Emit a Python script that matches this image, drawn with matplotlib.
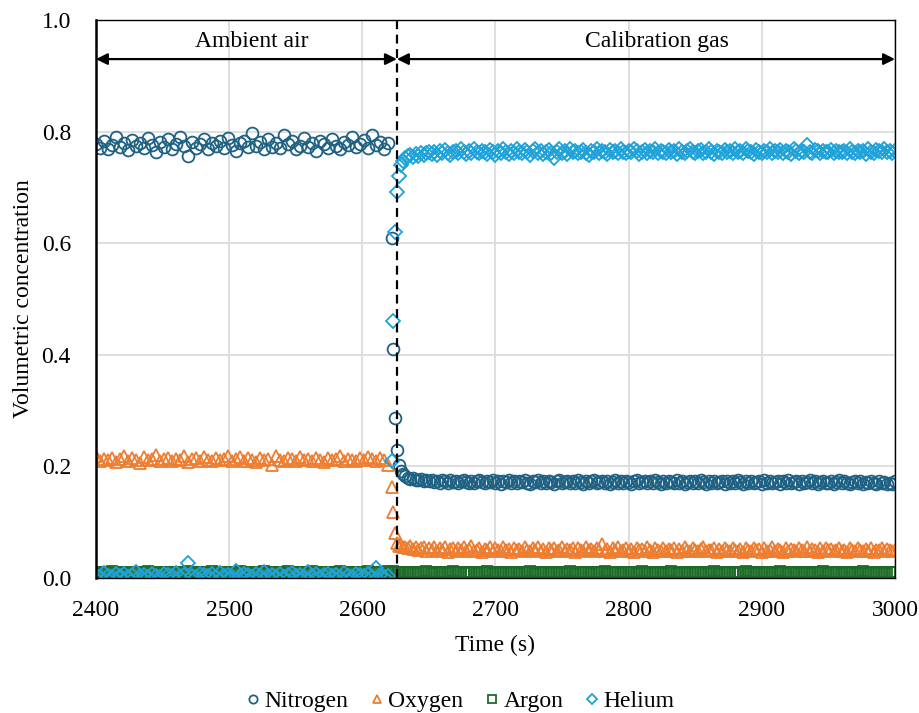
import numpy as np
import matplotlib
matplotlib.use("Agg")
import matplotlib.pyplot as plt

plt.rcParams['font.family'] = ['Liberation Serif', 'DejaVu Serif']

# Values in thousandths (volume fraction x 1000)
# Ambient air segment, one sample every 3 s from 2400 s
n2_air = [778, 771, 783, 769, 776, 790, 772, 780, 767, 785,
          774, 779, 770, 788, 776, 764, 781, 773, 786, 769,
          777, 791, 775, 757, 782, 771, 778, 787, 768, 780,
          774, 783, 770, 789, 776, 765, 779, 784, 772, 797,
          775, 781, 768, 786, 773, 779, 770, 794, 777, 783,
          769, 775, 788, 772, 780, 766, 784, 777, 771, 786,
          774, 769, 781, 776, 790, 773, 778, 785, 770, 794,
          776, 782, 768, 779]
o2_air = [218, 209, 214, 211, 216, 208, 213, 219, 210, 215,
          212, 207, 217, 211, 214, 220, 209, 213, 216, 210,
          214, 211, 218, 208, 213, 215, 210, 217, 212, 209,
          216, 211, 214, 219, 210, 213, 217, 209, 215, 212,
          208, 216, 211, 214, 202, 218, 212, 210, 215, 213,
          209, 217, 211, 214, 210, 216, 212, 208, 215, 211,
          213, 218, 210, 214, 212, 209, 216, 211, 217, 213,
          210, 215, 212, 203]
ar_air = [10, 9, 11, 10, 12, 9, 10, 11, 8, 10,
          11, 10, 9, 12, 10, 11, 9, 10, 11, 10,
          9, 11, 10, 12, 10, 9, 11, 10, 10, 12,
          9, 10, 11, 10, 9, 11, 12, 10, 10, 9,
          11, 10, 12, 9, 10, 11, 10, 9, 12, 10,
          10, 11, 9, 10, 12, 10, 11, 9, 10, 11,
          10, 12, 9, 11, 10, 10, 11, 9, 12, 10,
          11, 10, 9, 12]
he_air = [6, 2, 9, 4, 1, 7, 3, 8, 2, 5,
          10, 3, 6, 1, 8, 4, 2, 7, 5, 3,
          9, 1, 6, 27, 4, 2, 8, 5, 3, 7,
          1, 9, 4, 6, 2, 12, 3, 8, 5, 1,
          7, 3, 10, 4, 6, 2, 8, 1, 5, 9,
          3, 6, 2, 11, 4, 7, 1, 5, 8, 3,
          6, 2, 9, 4, 1, 7, 5, 3, 8, 2,
          18, 5, 1, 4]

# Switch-over
t_switch = [2622, 2623, 2624.5, 2626, 2627.5, 2629, 2630.5]
n2_switch = [610, 410, 287, 230, 203, 192, 186]
o2_switch = [164, 119, 80, 63, 58, 60, 56]
ar_switch = [11, 12, 10, 11, 10, 11, 10]
he_switch = [210, 460, 620, 692, 720, 740, 748]

# Calibration gas segment, one sample every 2 s from 2632 s
n2_cal = [183, 180, 178, 179, 176, 175, 177, 174, 176, 173,
          175, 172, 174, 171, 176, 173, 170, 175, 172, 174,
          171, 173, 176, 172, 170, 174, 171, 173, 175, 172,
          170, 174, 172, 176, 171, 173, 169, 174, 172, 175,
          171, 173, 170, 174, 172, 176, 171, 169, 173, 172,
          175, 170, 173, 171, 174, 172, 169, 173, 176, 171,
          172, 174, 170, 173, 171, 175, 172, 169, 174, 171,
          173, 176, 170, 172, 174, 171, 173, 169, 172, 175,
          171, 173, 170, 174, 172, 169, 173, 175, 171, 172,
          174, 170, 173, 171, 176, 172, 169, 173, 171, 174,
          172, 170, 175, 171, 173, 169, 172, 174, 170, 173,
          171, 175, 172, 169, 173, 171, 174, 170, 172, 173,
          169, 174, 171, 173, 170, 175, 172, 169, 173, 171,
          174, 170, 172, 173, 169, 175, 171, 173, 170, 172,
          174, 169, 173, 171, 175, 170, 172, 174, 169, 173,
          171, 172, 175, 170, 173, 169, 172, 174, 171, 170,
          173, 169, 172, 175, 170, 173, 171, 168, 172, 174,
          170, 173, 169, 172, 171, 174, 170, 168, 173, 171,
          172, 169, 170, 168, 174]
o2_cal = [56, 54, 57, 52, 55, 50, 53, 56, 49, 54,
          51, 55, 48, 53, 50, 56, 47, 52, 54, 49,
          53, 50, 55, 48, 52, 57, 49, 51, 54, 47,
          52, 50, 55, 48, 53, 51, 49, 56, 50, 52,
          47, 54, 50, 52, 49, 55, 51, 48, 53, 50,
          56, 49, 52, 47, 54, 50, 53, 48, 51, 55,
          49, 52, 50, 54, 47, 53, 51, 49, 56, 50,
          52, 48, 54, 50, 61, 49, 52, 47, 53, 50,
          55, 48, 51, 53, 49, 52, 47, 54, 50, 52,
          49, 55, 50, 47, 53, 51, 49, 54, 48, 52,
          50, 54, 47, 52, 49, 55, 50, 48, 53, 51,
          49, 52, 56, 48, 51, 50, 54, 47, 52, 49,
          53, 50, 48, 54, 51, 49, 52, 46, 53, 50,
          48, 54, 50, 52, 47, 53, 49, 51, 55, 48,
          52, 50, 47, 54, 49, 52, 50, 48, 53, 51,
          49, 55, 48, 52, 50, 47, 53, 49, 54, 50,
          52, 48, 51, 54, 49, 50, 47, 53, 51, 49,
          54, 50, 48, 52, 49, 53, 47, 51, 50, 54,
          49, 52, 50, 48, 51]
ar_cal = [11, 10, 11, 10, 9, 11, 10, 10, 12, 10,
          9, 10, 11, 10, 10, 9, 11, 10, 12, 10,
          10, 11, 9, 10, 10, 11, 10, 9, 10, 11,
          10, 12, 10, 9, 11, 10, 10, 11, 9, 10,
          11, 10, 10, 9, 10, 11, 10, 12, 10, 9,
          10, 11, 10, 10, 9, 11, 10, 10, 11, 9,
          10, 10, 12, 10, 9, 10, 11, 10, 10, 11,
          9, 10, 11, 10, 10, 12, 9, 10, 11, 10,
          10, 9, 11, 10, 10, 11, 10, 9, 10, 12,
          10, 11, 9, 10, 11, 10, 10, 9, 11, 10,
          12, 10, 9, 11, 10, 10, 11, 9, 10, 10,
          11, 10, 10, 9, 11, 10, 12, 10, 9, 10,
          10, 11, 10, 9, 10, 11, 10, 10, 12, 9,
          10, 10, 11, 9, 10, 11, 10, 10, 9, 11,
          10, 12, 10, 9, 11, 10, 10, 11, 9, 10,
          11, 10, 9, 10, 10, 11, 10, 12, 10, 9,
          10, 11, 10, 10, 9, 11, 10, 10, 11, 9,
          10, 10, 12, 9, 10, 11, 10, 9, 10, 11,
          10, 9, 11, 10, 11]
he_cal = [752, 756, 758, 755, 760, 757, 762, 759, 761, 764,
          760, 763, 758, 765, 761, 767, 762, 759, 764, 766,
          761, 768, 763, 760, 765, 762, 769, 764, 761, 766,
          763, 760, 767, 764, 758, 765, 762, 768, 763, 760,
          766, 762, 769, 764, 761, 767, 763, 759, 765, 768,
          762, 766, 760, 764, 767, 761, 752, 763, 769, 762,
          765, 760, 768, 763, 766, 761, 764, 767, 762, 759,
          765, 763, 768, 761, 766, 764, 760, 767, 763, 765,
          762, 768, 764, 761, 766, 763, 769, 765, 760, 764,
          767, 762, 765, 763, 768, 761, 766, 764, 762, 767,
          763, 765, 760, 768, 764, 762, 766, 769, 763, 761,
          765, 767, 762, 764, 768, 763, 760, 766, 764, 762,
          767, 763, 765, 761, 768, 764, 766, 762, 769, 765,
          763, 760, 767, 764, 762, 766, 763, 768, 761, 765,
          764, 767, 762, 766, 763, 760, 768, 765, 762, 766,
          763, 776, 764, 761, 767, 765, 762, 766, 763, 764,
          767, 762, 765, 764, 763, 766, 761, 768, 764, 762,
          766, 763, 765, 760, 768, 764, 762, 767, 765, 763,
          769, 764, 766, 762, 765]

t_air = 2400 + 3 * np.arange(len(n2_air))
t_cal = 2632 + 2 * np.arange(len(n2_cal))
t_all = np.concatenate([t_air, t_switch, t_cal])

series = [
    ("Nitrogen", n2_air + n2_switch + n2_cal, "o", "#1F6183", 8.5),
    ("Oxygen", o2_air + o2_switch + o2_cal, "^", "#ED7D31", 8.5),
    ("Argon", ar_air + ar_switch + ar_cal, "s", "#1E6B27", 7.5),
    ("Helium", he_air + he_switch + he_cal, "D", "#1EA2DA", 7),
]

T_CHANGE = 2626
FS = 17

fig = plt.figure(figsize=(9.2, 7.13), dpi=100)
ax = fig.add_axes([0.1043, 0.1893, 0.8685, 0.7826])

for name, vals, mk, col, ms in series:
    ax.plot(t_all, np.array(vals) / 1000.0, linestyle="none", marker=mk,
            markersize=ms, markerfacecolor="none", markeredgecolor=col,
            markeredgewidth=1.3, label=name)

ax.set_xlim(2400, 3000)
ax.set_ylim(0, 1.0)
ax.set_xticks(np.arange(2400, 3001, 100))
ax.set_yticks(np.arange(0, 1.01, 0.2))
ax.set_yticklabels(["%.1f" % v for v in np.arange(0, 1.01, 0.2)])
ax.grid(True, color="#D9D9D9", linewidth=1.2)
ax.set_axisbelow(True)
ax.tick_params(axis="x", length=0, labelsize=FS, pad=15.5)
ax.tick_params(axis="y", length=0, labelsize=FS, pad=18)
for sp in ax.spines.values():
    sp.set_color("black")
    sp.set_linewidth(1.0)
ax.spines["left"].set_linewidth(1.8)

ax.axvline(T_CHANGE, color="black", linestyle=(0, (4, 2.5)), linewidth=1.6)

arrow = dict(arrowstyle="<|-|>", color="black", lw=1.6, mutation_scale=17,
             shrinkA=0, shrinkB=0)
ax.annotate("", xy=(2400, 0.930), xytext=(T_CHANGE, 0.930), arrowprops=arrow)
ax.annotate("", xy=(T_CHANGE, 0.930), xytext=(3000, 0.930), arrowprops=arrow)
ax.text(2517, 0.961, "Ambient air", ha="center", va="center", fontsize=FS)
ax.text(2821, 0.961, "Calibration gas", ha="center", va="center", fontsize=FS)

ax.set_xlabel("Time (s)", fontsize=FS, labelpad=10)
ax.set_ylabel("Volumetric concentration", fontsize=FS, labelpad=5.5)

fig.legend(loc="center", bbox_to_anchor=(0.5, 0.0168), ncol=4, frameon=False,
           fontsize=FS, markerscale=0.7, handlelength=0.6, handletextpad=0.2,
           columnspacing=0.9)

fig.savefig("out.png", dpi=100)
